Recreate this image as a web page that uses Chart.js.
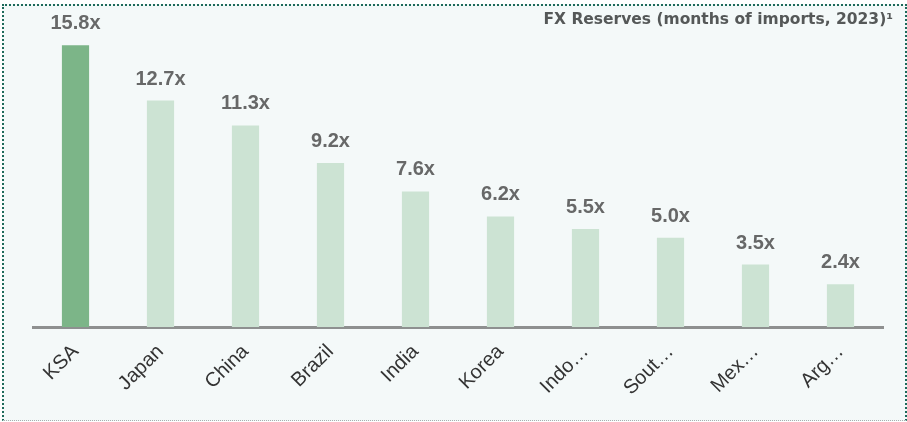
<!DOCTYPE html>
<html>
<head>
<meta charset="utf-8">
<script src="https://cdn.jsdelivr.net/npm/chart.js@4.4.0/dist/chart.umd.min.js"></script>
<style>
  html, body { margin: 0; padding: 0; background: #ffffff; }
  #frame {
    position: absolute; left: 2px; top: 4px; width: 901px; height: 414px;
    background: #f4f9f9;
    border-top: 2px dotted #1d6a5a; border-left: 2px dotted #1d6a5a; border-right: 2px dotted #1d6a5a;
    border-bottom: 1px dotted #a8b0b0;
  }
  #wrap { position: absolute; left: 0; top: 0; width: 907px; height: 422px; }
</style>
</head>
<body>
<div id="frame"></div>
<div id="wrap"><canvas id="c" width="907" height="422"></canvas></div>
<script>
const categories = ["KSA", "Japan", "China", "Brazil", "India", "Korea", "Indo\u2026", "Sout\u2026", "Mex\u2026", "Arg\u2026"];
const reserves = [15.8, 12.7, 11.3, 9.2, 7.6, 6.2, 5.5, 5.0, 3.5, 2.4];
const valueLabels = ["15.8x", "12.7x", "11.3x", "9.2x", "7.6x", "6.2x", "5.5x", "5.0x", "3.5x", "2.4x"];
const chartTitle = "FX Reserves (months of imports, 2023)\u00B9";

const barColors = reserves.map((v, i) => i === 0 ? "#7cb588" : "#cce3d3");

const valueLabelPlugin = {
  id: "valueLabels",
  afterDatasetsDraw(chart) {
    const ctx = chart.ctx;
    const meta = chart.getDatasetMeta(0);
    ctx.save();
    ctx.font = "bold 20px 'Liberation Sans', Arial, sans-serif";
    ctx.fillStyle = "#676868";
    ctx.textAlign = "center";
    ctx.textBaseline = "alphabetic";
    meta.data.forEach((bar, i) => {
      ctx.fillText(valueLabels[i], bar.x, bar.y - 16);
    });
    ctx.restore();
  }
};

const titlePlugin = {
  id: "cornerTitle",
  afterDraw(chart) {
    const ctx = chart.ctx;
    ctx.save();
    ctx.font = "bold 15.5px 'DejaVu Sans', sans-serif";
    ctx.fillStyle = "#555858";
    ctx.textAlign = "right";
    ctx.textBaseline = "alphabetic";
    ctx.fillText(chartTitle, 893, 24);
    ctx.restore();
  }
};

new Chart(document.getElementById("c"), {
  type: "bar",
  data: {
    labels: categories,
    datasets: [{
      data: reserves,
      backgroundColor: barColors,
      borderWidth: 0,
      categoryPercentage: 1.0,
      barPercentage: 0.32
    }]
  },
  options: {
    responsive: false,
    animation: false,
    layout: { padding: { left: 33, right: 24, top: 6, bottom: 0 } },
    plugins: { legend: { display: false }, tooltip: { enabled: false }, title: { display: false } },
    scales: {
      y: { display: false, min: 0, max: 18 },
      x: {
        grid: { display: false },
        border: { display: true, color: "#8e9090", width: 3 },
        ticks: {
          color: "#333333",
          font: { family: "'Liberation Sans', Arial, sans-serif", size: 20 },
          minRotation: 45, maxRotation: 45,
          padding: 5,
          autoSkip: false
        },
        afterFit(scale) { scale.height = 95; }
      }
    }
  },
  plugins: [valueLabelPlugin, titlePlugin]
});
</script>
</body>
</html>
